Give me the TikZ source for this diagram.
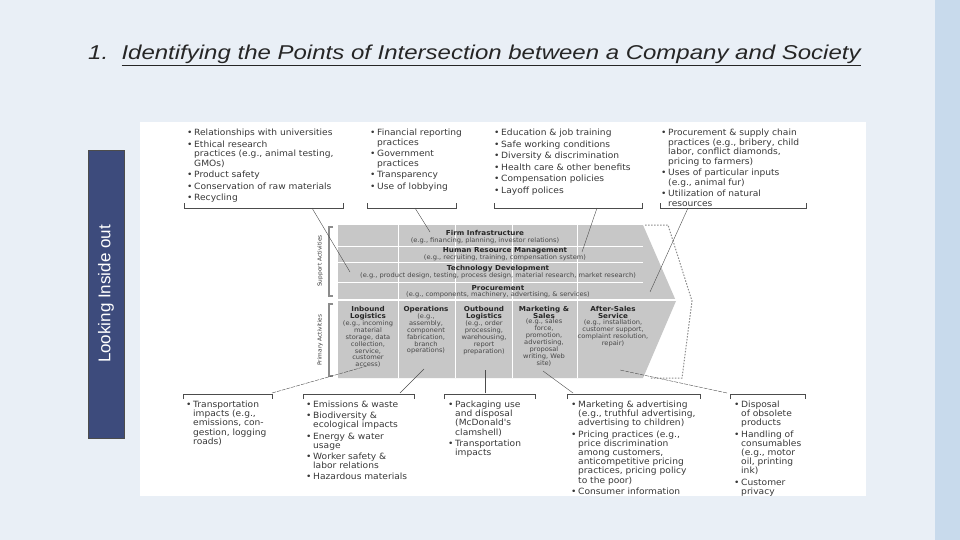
\documentclass[tikz,border=0pt]{standalone}
\usepackage{fontspec}
\setmainfont{Liberation Sans}
\newfontfamily\dv[FakeStretch=1.06]{DejaVu Sans}
\definecolor{bgc}{RGB}{233,239,246}
\definecolor{strip}{RGB}{200,218,236}
\definecolor{navy}{RGB}{61,75,124}
\newcommand\bitem[1]{\par\noindent\hangindent=7pt\hangafter=1\makebox[7pt][l]{\textbullet}#1\par\vspace{2pt}}
\begin{document}
\begin{tikzpicture}[x=1pt,y=-1pt,
  txt/.style={anchor=north west,align=left,inner sep=0pt,font=\dv\fontsize{8.6}{9.5}\selectfont,text=black!78,text width=200},
  txb/.style={txt,font=\dv\fontsize{8.6}{9.2}\selectfont},
  brk/.style={draw=black!70,line width=0.6pt},
  lead/.style={draw=black!70,line width=0.4pt},
  sep/.style={draw=white,line width=0.8pt},
  hd/.style={font=\dv\bfseries\fontsize{6.8}{7.6}\selectfont,align=center,inner sep=0pt,text=black!85},
  sub/.style={font=\dv\fontsize{6.3}{6.9}\selectfont,align=center,inner sep=0pt,text=black!72}]
\useasboundingbox (0,0) rectangle (960,540);
\fill[bgc] (0,0) rectangle (960,540);
\fill[strip] (935,0) rectangle (960,540);
\fill[white] (140,122) rectangle (866,496);
% title
\node[anchor=west,font=\itshape\fontsize{20}{22}\selectfont,text=black!85,inner sep=0pt] (title) at (88,55) {\scalebox{1.2}[1]{1.\ \ \underline{Identifying the Points of Intersection between a Company and Society}}};
% side box
\node[draw=black!70,fill=navy,minimum width=36,minimum height=288,inner sep=0pt] (side) at (106,294) {};
\node[rotate=90,text=white,font=\fontsize{17}{19}\selectfont] (sidet) at (106,294) {Looking Inside out};
% value chain
\fill[black!22] (338,225) -- (643,225) -- (676,301) -- (643,378) -- (338,378) -- cycle;
\draw[black!45,dash pattern=on 1.5pt off 1.5pt,line width=1pt] (645,225) -- (668,225) -- (692,301) -- (682,378) -- (650,378);
\foreach \y in {246,262,282} \draw[sep] (338,\y) -- (643,\y);
\draw[white,line width=1.5pt] (338,300) -- (676,300);
\foreach \x in {398,455,512,577} \draw[sep] (\x,225) -- (\x,378);
\draw[black!45,line width=2pt] (333,227) -- (329,227) -- (329,296) -- (333,296);
\draw[black!45,line width=2pt] (333,304) -- (329,304) -- (329,376) -- (333,376);
\node[rotate=90,font=\dv\fontsize{5.5}{6}\selectfont,text=black!80] (sa) at (320,261) {Support Activities};
\node[rotate=90,font=\dv\fontsize{5.5}{6}\selectfont,text=black!80] (pa) at (320,340) {Primary Activities};
\node[hd] (fi) at (485,233) {Firm Infrastructure};
\node[sub] (fis) at (485,240.5) {(e.g., financing, planning, investor relations)};
\node[hd] (hr) at (505,251) {Human Resource Management};
\node[sub] (hrs) at (505,258) {(e.g., recruiting, training, compensation system)};
\node[hd] (td) at (498,269) {Technology Development};
\node[sub] (tds) at (498,276) {(e.g., product design, testing, process design, material research, market research)};
\node[hd] (pr) at (498,288) {Procurement};
\node[sub] (prs) at (498,295) {(e.g., components, machinery, advertising, \& services)};
\node[hd,anchor=north] (il) at (368,306) {Inbound\\Logistics};
\node[sub,anchor=north] (ils) at (368,320.5) {(e.g., incoming\\material\\storage, data\\collection,\\service,\\customer\\access)};
\node[hd,anchor=north] (op) at (426,306) {Operations};
\node[sub,anchor=north] (ops) at (426,313.5) {(e.g.,\\assembly,\\component\\fabrication,\\branch\\operations)};
\node[hd,anchor=north] (ol) at (484,306) {Outbound\\Logistics};
\node[sub,anchor=north] (ols) at (484,320.5) {(e.g., order\\processing,\\warehousing,\\report\\preparation)};
\node[hd,anchor=north] (ms) at (544,306) {Marketing \&\\Sales};
\node[sub,anchor=north] (mss) at (544,319) {(e.g., sales\\force,\\promotion,\\advertising,\\proposal\\writing, Web\\site)};
\node[hd,anchor=north] (as) at (613,306) {After-Sales\\Service};
\node[sub,anchor=north] (ass) at (613,319.5) {(e.g., installation,\\customer support,\\complaint resolution,\\repair)};
% top boxes
\node[txt] (t1) at (187,126) {\bitem{Relationships with universities}\bitem{Ethical research\newline practices (e.g., animal testing,\newline GMOs)}\bitem{Product safety}\bitem{Conservation of raw materials}\bitem{Recycling}};
\node[txt] (t2) at (370,126) {\bitem{Financial reporting\newline practices}\bitem{Government\newline practices}\bitem{Transparency}\bitem{Use of lobbying}};
\node[txt] (t3) at (494,126) {\bitem{Education \& job training}\bitem{Safe working conditions}\bitem{Diversity \& discrimination}\bitem{Health care \& other benefits}\bitem{Compensation policies}\bitem{Layoff polices}};
\node[txt] (t4) at (661,126) {\bitem{Procurement \& supply chain\newline practices (e.g., bribery, child\newline labor, conflict diamonds,\newline pricing to farmers)}\bitem{Uses of particular inputs\newline (e.g., animal fur)}\bitem{Utilization of natural\newline resources}};
\draw[brk] (184,203) -- (184,208) -- (343,208) -- (343,203);
\draw[brk] (367,203) -- (367,208) -- (456,208) -- (456,203);
\draw[brk] (494,203) -- (494,208) -- (642,208) -- (642,203);
\draw[brk] (660,203) -- (660,208) -- (806,208) -- (806,203);
\coordinate (a1) at (312,208); \coordinate (a1e) at (350,272);
\coordinate (a2) at (415,208); \coordinate (a2e) at (430,232);
\coordinate (a3) at (597,208); \coordinate (a3e) at (582,252);
\coordinate (a4) at (688,208); \coordinate (a4e) at (650,292);
\draw[lead] (a1) -- (a1e); \draw[lead] (a2) -- (a2e); \draw[lead] (a3) -- (a3e); \draw[lead] (a4) -- (a4e);
% bottom boxes
\draw[brk] (183,399) -- (183,394) -- (272,394) -- (272,399);
\draw[brk] (303,399) -- (303,394) -- (414,394) -- (414,399);
\draw[brk] (444,399) -- (444,394) -- (535,394) -- (535,399);
\draw[brk] (567,399) -- (567,394) -- (700,394) -- (700,399);
\draw[brk] (730,399) -- (730,394) -- (805,394) -- (805,399);
\coordinate (b1) at (272,393); \coordinate (b1e) at (367,366);
\coordinate (b2) at (400,393); \coordinate (b2e) at (424,369);
\coordinate (b3) at (485,393); \coordinate (b3e) at (485,370);
\coordinate (b4) at (573,393); \coordinate (b4e) at (543,371);
\coordinate (b5) at (727,393); \coordinate (b5e) at (620,370);
\draw[lead,dash pattern=on 4pt off 1pt] (b1) -- (b1e); \draw[lead] (b2) -- (b2e); \draw[lead] (b3) -- (b3e); \draw[lead] (b4) -- (b4e); \draw[lead,dash pattern=on 4pt off 1pt] (b5) -- (b5e);
\node[txb] (u1) at (186,398) {\bitem{Transportation\newline impacts (e.g.,\newline emissions, con-\newline gestion, logging\newline roads)}};
\node[txb] (u2) at (306,398) {\bitem{Emissions \& waste}\bitem{Biodiversity \&\newline ecological impacts}\bitem{Energy \& water\newline usage}\bitem{Worker safety \&\newline labor relations}\bitem{Hazardous materials}};
\node[txb] (u3) at (448,398) {\bitem{Packaging use\newline and disposal\newline (McDonald's\newline clamshell)}\bitem{Transportation\newline impacts}};
\node[txb] (u4) at (571,398) {\bitem{Marketing \& advertising\newline (e.g., truthful advertising,\newline advertising to children)}\bitem{Pricing practices (e.g.,\newline price discrimination\newline among customers,\newline anticompetitive pricing\newline practices, pricing policy\newline to the poor)}\bitem{Consumer information}};
\node[txb] (u5) at (734,398) {\bitem{Disposal\newline of obsolete\newline products}\bitem{Handling of\newline consumables\newline (e.g., motor\newline oil, printing\newline ink)}\bitem{Customer\newline privacy}};
\end{tikzpicture}
\end{document}
